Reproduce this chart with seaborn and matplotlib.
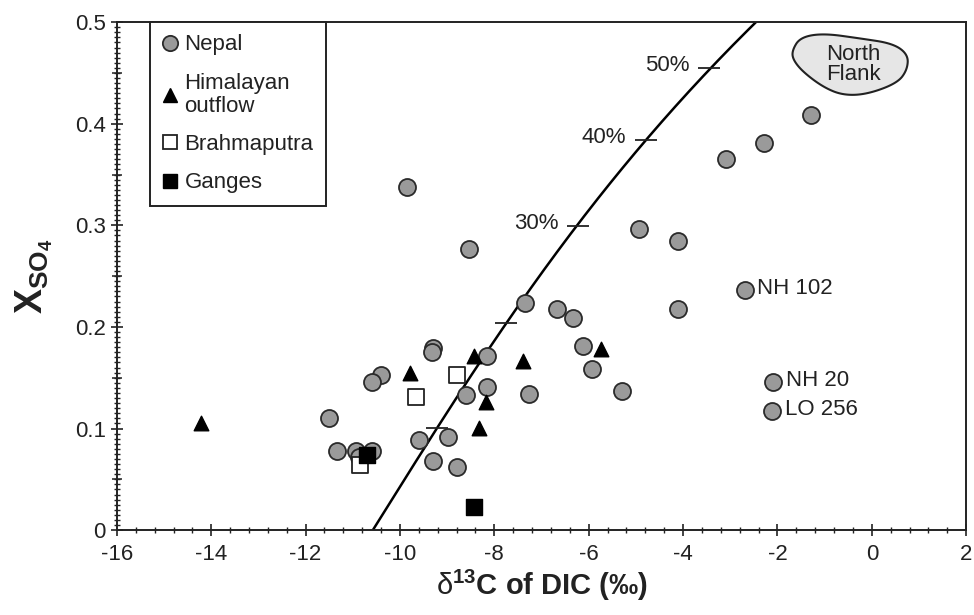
import numpy as np
import matplotlib
matplotlib.use("Agg")
import matplotlib.pyplot as plt
import seaborn as sns
from matplotlib.patches import Polygon
from matplotlib.lines import Line2D
from matplotlib.ticker import MultipleLocator

# ---- data -------------------------------------------------------------
nepal_x = [-9.85, -8.54, -7.35, -6.67, -6.33, -6.12, -5.93, -5.29, -4.93, -4.11,
           -4.11, -3.09, -2.28, -1.29, -2.69, -2.09, -2.11, -8.16, -8.16, -8.60,
           -7.27, -9.30, -9.32, -10.40, -10.59, -11.51, -11.34, -10.93, -10.59,
           -10.87, -9.60, -8.98, -9.30, -8.79]
nepal_y = [0.338, 0.277, 0.224, 0.218, 0.209, 0.181, 0.159, 0.137, 0.296, 0.285,
           0.218, 0.365, 0.381, 0.409, 0.236, 0.146, 0.117, 0.171, 0.141, 0.133,
           0.134, 0.179, 0.175, 0.153, 0.146, 0.110, 0.078, 0.078, 0.078,
           0.072, 0.089, 0.092, 0.068, 0.062]

himalayan_x = [-14.22, -9.79, -8.43, -8.18, -8.33, -7.39, -5.74]
himalayan_y = [0.105, 0.155, 0.171, 0.126, 0.101, 0.166, 0.178]

brahmaputra_x = [-9.66, -8.79, -10.85]
brahmaputra_y = [0.131, 0.153, 0.064]

ganges_x = [-10.70, -8.43]
ganges_y = [0.074, 0.023]

# named samples
sample_names = ["NH 102", "NH 20", "LO 256"]
sample_x = [-2.69, -2.09, -2.11]
sample_y = [0.236, 0.146, 0.117]

# mixing curve with sulfuric-acid percentage marks
mix_pct = [10, 20, 30, 40, 50]
mix_x = [-9.22, -7.75, -6.23, -4.79, -3.45]
mix_y = [0.101, 0.204, 0.299, 0.384, 0.455]
curve_end_x = [-10.57, -2.43]
curve_end_y = [0.0, 0.5]

# North Flank field outline
flank_x = [-1.69, -1.52, -1.03, -0.25, 0.45, 0.77, 0.75, 0.54, -0.10, -0.61,
           -1.03, -1.46, -1.67]
flank_y = [0.472, 0.485, 0.489, 0.484, 0.479, 0.468, 0.453, 0.440, 0.429, 0.428,
           0.436, 0.451, 0.463]

x_ticks = [-16, -14, -12, -10, -8, -6, -4, -2, 0, 2]
y_ticks = [0, 0.1, 0.2, 0.3, 0.4, 0.5]
y_tick_labels = ["0", "0.1", "0.2", "0.3", "0.4", "0.5"]

# ---- style ------------------------------------------------------------
sns.set_theme(style="ticks")
plt.rcParams["font.family"] = ["Liberation Sans", "DejaVu Sans"]
plt.rcParams["mathtext.fontset"] = "custom"
plt.rcParams["mathtext.rm"] = "Liberation Sans"
plt.rcParams["mathtext.bf"] = "Liberation Sans:bold"
plt.rcParams["mathtext.it"] = "Liberation Sans:italic"

FS = 16
INK = "#222222"

fig = plt.figure(figsize=(9.74, 6.15), dpi=100)
ax = fig.add_axes([0.120, 0.138, 0.872, 0.826])

# mixing curve (smooth through the percentage marks)
cy = np.array(curve_end_y[:1] + mix_y + curve_end_y[1:])
cx = np.array(curve_end_x[:1] + mix_x + curve_end_x[1:])
coef = np.polyfit(cy, cx, 3)
yy = np.linspace(0, 0.5, 200)
ax.plot(np.polyval(coef, yy), yy, color="black", lw=1.8, zorder=2)
ax.plot(mix_x, mix_y, linestyle="none", marker="_", markersize=16,
        markeredgewidth=1.3, color=INK, zorder=2)
for p, mx, my in zip(mix_pct, mix_x, mix_y):
    if p >= 30:
        ax.annotate(f"{p}%", (mx, my), xytext=(-14, 2), textcoords="offset points",
                    ha="right", va="center", fontsize=FS, color=INK)

# North Flank field (smoothed closed outline)
pts = np.column_stack([flank_x, flank_y])
for _ in range(4):
    nxt = np.roll(pts, -1, axis=0)
    q = 0.75 * pts + 0.25 * nxt
    r = 0.25 * pts + 0.75 * nxt
    pts = np.empty((2 * len(q), 2))
    pts[0::2] = q
    pts[1::2] = r
ax.add_patch(Polygon(pts, closed=True, facecolor="#e6e6e6", edgecolor=INK,
                     lw=1.5, zorder=2))
ax.text(-0.40, 0.4585, "North\nFlank", ha="center", va="center", fontsize=FS,
        color=INK, linespacing=0.95, zorder=3)

# samples
sns.scatterplot(x=nepal_x, y=nepal_y, marker="o", s=150, color="#9a9a9a",
                edgecolor="#2a2a2a", linewidth=1.3, ax=ax, legend=False, zorder=4)
sns.scatterplot(x=himalayan_x, y=himalayan_y, marker="^", s=110, color="black",
                edgecolor="black", linewidth=1.0, ax=ax, legend=False, zorder=4)
sns.scatterplot(x=brahmaputra_x, y=brahmaputra_y, marker="s", s=120, color="white",
                edgecolor=INK, linewidth=1.3, ax=ax, legend=False, zorder=4)
sns.scatterplot(x=ganges_x, y=ganges_y, marker="s", s=120, color="black",
                edgecolor="black", linewidth=1.0, ax=ax, legend=False, zorder=5)

for name, sx, sy in zip(sample_names, sample_x, sample_y):
    ax.annotate(name, (sx, sy), xytext=(9, 1), textcoords="offset points",
                ha="left", va="center", fontsize=FS, color=INK)

# axes
ax.set_xlim(-16, 2)
ax.set_ylim(0, 0.5)
ax.set_xticks(x_ticks)
ax.set_xticklabels([str(t) for t in x_ticks])
ax.set_yticks(y_ticks)
ax.set_yticklabels(y_tick_labels)
ax.xaxis.set_minor_locator(MultipleLocator(0.4))
ax.yaxis.set_minor_locator(MultipleLocator(0.005))
ax.tick_params(which="major", direction="inout", length=8, width=1.2,
               labelsize=FS, colors=INK, top=False, right=False)
ax.tick_params(axis="x", which="major", pad=6)
ax.tick_params(axis="y", which="major", pad=4)
ax.tick_params(which="minor", direction="inout", length=4, width=1.0,
               colors=INK, top=False, right=False)
sec = ax.secondary_yaxis("left")
sec.set_yticks([0.05, 0.15, 0.25, 0.35, 0.45])
sec.set_yticklabels([])
sec.tick_params(direction="inout", length=7, width=1.1, colors=INK)
sec.spines["left"].set_visible(False)
for s in ax.spines.values():
    s.set_color(INK)
    s.set_linewidth(1.4)

ax.set_xlabel(r"$\mathrm{\delta}^{\mathbf{13}}$C of DIC (‰)", fontsize=21,
              fontweight="bold", color=INK, labelpad=2)
ax.set_ylabel(r"$\mathbf{X}_{\mathbf{SO_4}}$", fontsize=27, color=INK,
              labelpad=14)

handles = [
    Line2D([], [], linestyle="none", marker="o", markersize=11,
           markerfacecolor="#9a9a9a", markeredgecolor="#2a2a2a", markeredgewidth=1.3),
    Line2D([], [], linestyle="none", marker="^", markersize=10,
           markerfacecolor="black", markeredgecolor="black"),
    Line2D([], [], linestyle="none", marker="s", markersize=10,
           markerfacecolor="white", markeredgecolor=INK, markeredgewidth=1.3),
    Line2D([], [], linestyle="none", marker="s", markersize=10,
           markerfacecolor="black", markeredgecolor="black"),
]
labels = ["Nepal", "Himalayan\noutflow", "Brahmaputra", "Ganges"]
leg = ax.legend(handles, labels, loc="upper left", bbox_to_anchor=(0.039, 1.0),
                borderaxespad=0, frameon=True, fancybox=False, fontsize=FS,
                handlelength=0.7, handletextpad=0.3, labelspacing=0.78,
                borderpad=0.55, edgecolor=INK, framealpha=1)
leg.get_frame().set_linewidth(1.4)
for t in leg.get_texts():
    t.set_color(INK)
    t.set_linespacing(1.12)

fig.savefig("out.png", dpi=100)
